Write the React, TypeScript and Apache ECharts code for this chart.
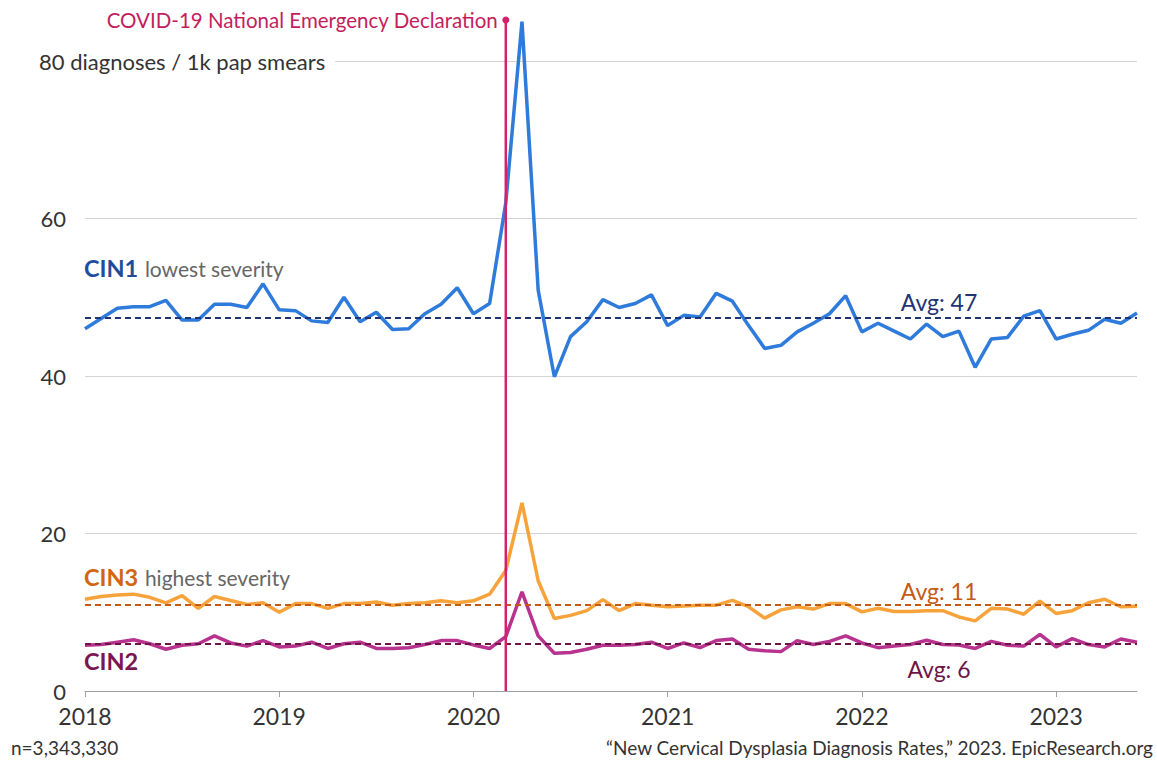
import React, { useEffect, useRef } from 'react';
import * as echarts from 'echarts';

const YEARS = ['2018', '2019', '2020', '2021', '2022', '2023'];
const MONTHS = ['01', '02', '03', '04', '05', '06', '07', '08', '09', '10', '11', '12'];
const LAST_MONTH_2023 = 6;

const categories: string[] = [];
YEARS.forEach((y) => {
  MONTHS.forEach((m, i) => {
    if (y === '2023' && i >= LAST_MONTH_2023) return;
    categories.push(`${y}-${m}`);
  });
});

const cin1 = [
  46.0, 47.3, 48.6, 48.8, 48.8, 49.6, 47.1, 47.1, 49.1, 49.1, 48.7, 51.7,
  48.4, 48.3, 47.0, 46.8, 50.0, 46.9, 48.1, 45.9, 46.0, 47.9, 49.1, 51.2,
  47.9, 49.2, 62.0, 85.0, 50.9, 39.9, 45.0, 46.9, 49.7, 48.7, 49.2, 50.3,
  46.4, 47.7, 47.5, 50.5, 49.5, 46.4, 43.5, 43.9, 45.6, 46.7, 47.9, 50.2,
  45.6, 46.7, 45.7, 44.7, 46.6, 45.0, 45.7, 41.1, 44.7, 44.9, 47.6, 48.3,
  44.7, 45.3, 45.8, 47.2, 46.7, 48.0,
];
const cin3 = [
  11.65, 12.0, 12.2, 12.3, 11.9, 11.2, 12.1, 10.5, 12.0, 11.5, 11.0, 11.2,
  10.0, 11.1, 11.1, 10.5, 11.1, 11.1, 11.3, 10.9, 11.1, 11.2, 11.45, 11.2,
  11.45, 12.3, 15.3, 23.9, 14.0, 9.2, 9.6, 10.2, 11.6, 10.2, 11.1, 10.9,
  10.7, 10.8, 10.9, 10.9, 11.5, 10.7, 9.25, 10.3, 10.7, 10.4, 11.1, 11.1,
  10.05, 10.5, 10.1, 10.1, 10.2, 10.2, 9.4, 8.9, 10.5, 10.4, 9.75, 11.4,
  9.85, 10.2, 11.2, 11.65, 10.7, 10.75,
];
const cin2 = [
  5.8, 5.9, 6.2, 6.5, 6.0, 5.3, 5.8, 6.0, 7.0, 6.1, 5.7, 6.4,
  5.6, 5.7, 6.2, 5.4, 6.0, 6.2, 5.4, 5.4, 5.5, 5.9, 6.4, 6.4,
  5.85, 5.4, 6.9, 12.6, 7.0, 4.8, 4.9, 5.3, 5.8, 5.8, 5.9, 6.2,
  5.4, 6.1, 5.5, 6.4, 6.6, 5.3, 5.1, 5.0, 6.4, 5.9, 6.3, 7.0,
  6.1, 5.5, 5.7, 5.9, 6.45, 5.9, 5.85, 5.4, 6.3, 5.8, 5.7, 7.2,
  5.6, 6.65, 5.9, 5.6, 6.6, 6.2,
];

const AVG_CIN1 = 47.4;
const AVG_CIN3 = 10.9;
const AVG_CIN2 = 6.0;

const Y_TICKS_MAX = 80;
const Y_INTERVAL = 20;
const COVID_MONTH = '2020-03';

const FONT = 'Lato, "Open Sans", sans-serif';

const C1 = '#2f7bdb';
const C1_DARK = '#1f4c9c';
const C1_AVG = '#1e3474';
const C3 = '#f7a33c';
const C3_DARK = '#d2660f';
const C3_AVG = '#c45a14';
const C2 = '#b7338f';
const C2_DARK = '#7a1650';
const C2_AVG = '#6d1545';
const COVID = '#d5206a';

export default function App() {
  const ref = useRef<HTMLDivElement>(null);
  useEffect(() => {
    if (!ref.current) return;
    const chart = echarts.init(ref.current, undefined, { renderer: 'svg' });
    const avgLine = (val: number, color: string) => ({
      silent: true,
      symbol: ['none', 'none'],
      label: { show: false },
      lineStyle: { type: [6, 4], color, width: 2 },
      data: [{ yAxis: val }],
    });
    const lineSeries = (name: string, data: number[], color: string, avg: number, avgColor: string) => ({
      name,
      type: 'line',
      data,
      clip: false,
      symbol: 'none',
      lineStyle: { color, width: 3.5 },
      itemStyle: { color },
      markLine: avgLine(avg, avgColor),
    });
    chart.setOption({
      animation: false,
      grid: { left: 85, right: 20, top: 61, bottom: 70 },
      xAxis: {
        type: 'category',
        data: categories,
        boundaryGap: false,
        axisLine: { lineStyle: { color: '#a0a0a0', width: 1 } },
        axisTick: {
          interval: (i: number) => i % 12 === 0,
          length: 6,
          lineStyle: { color: '#a0a0a0' },
        },
        axisLabel: {
          interval: (i: number) => i % 12 === 0,
          formatter: (v: string) => v.slice(0, 4),
          fontSize: 23,
          color: '#333',
          fontFamily: FONT,
          margin: 13,
        },
      },
      yAxis: {
        type: 'value',
        min: 0,
        max: Y_TICKS_MAX,
        interval: Y_INTERVAL,
        axisLine: { show: false },
        axisTick: { show: false },
        axisLabel: {
          formatter: (v: number) => (v === Y_TICKS_MAX ? '' : String(v)),
          fontSize: 22,
          color: '#333',
          fontFamily: FONT,
          margin: 19,
        },
        splitLine: { lineStyle: { color: '#d4d4d4', width: 1 } },
      },
      series: [
        lineSeries('CIN1', cin1, C1, AVG_CIN1, C1_AVG),
        lineSeries('CIN3', cin3, C3, AVG_CIN3, C3_AVG),
        lineSeries('CIN2', cin2, C2, AVG_CIN2, C2_AVG),
      ],
    });

    const covidX = chart.convertToPixel({ xAxisIndex: 0 }, COVID_MONTH) as number;
    const y0 = chart.convertToPixel({ yAxisIndex: 0 }, 0) as number;
    const y80 = chart.convertToPixel({ yAxisIndex: 0 }, Y_TICKS_MAX) as number;
    const yA1 = chart.convertToPixel({ yAxisIndex: 0 }, AVG_CIN1) as number;
    const yA3 = chart.convertToPixel({ yAxisIndex: 0 }, AVG_CIN3) as number;
    const yA2 = chart.convertToPixel({ yAxisIndex: 0 }, AVG_CIN2) as number;
    const topY = 20;
    const avgX = 939;

    chart.setOption({
      graphic: [
        {
          type: 'text', z: 100, x: 39, y: y80,
          style: {
            text: `${Y_TICKS_MAX} diagnoses / 1k pap smears`,
            fontSize: 22, fontFamily: FONT, fill: '#333',
            verticalAlign: 'middle', align: 'left',
            backgroundColor: '#fff', padding: [4, 10, 4, 0],
          },
        },
        {
          type: 'line', z: 90,
          shape: { x1: covidX, y1: topY, x2: covidX, y2: y0 },
          style: { stroke: COVID, lineWidth: 2.5 },
        },
        {
          type: 'circle', z: 91,
          shape: { cx: covidX, cy: topY, r: 3.5 },
          style: { fill: COVID },
        },
        {
          type: 'text', z: 100, x: covidX - 8, y: topY,
          style: {
            text: 'COVID-19 National Emergency Declaration',
            fontSize: 20.5, fontFamily: FONT, fill: '#c41d5c',
            align: 'right', verticalAlign: 'middle',
          },
        },
        {
          type: 'text', z: 100, x: 84, y: 268,
          style: {
            text: '{a|CIN1}  {b|lowest severity}',
            verticalAlign: 'middle', align: 'left',
            rich: {
              a: { fontSize: 23.5, fontWeight: 'bold', fill: C1_DARK, fontFamily: FONT },
              b: { fontSize: 21, fill: '#666', fontFamily: FONT },
            },
          },
        },
        {
          type: 'text', z: 100, x: 84, y: 577,
          style: {
            text: '{a|CIN3}  {b|highest severity}',
            verticalAlign: 'middle', align: 'left',
            rich: {
              a: { fontSize: 23.5, fontWeight: 'bold', fill: C3_DARK, fontFamily: FONT },
              b: { fontSize: 21, fill: '#666', fontFamily: FONT },
            },
          },
        },
        {
          type: 'text', z: 100, x: 84, y: 661,
          style: {
            text: 'CIN2', fontSize: 23.5, fontWeight: 'bold', fill: C2_DARK, fontFamily: FONT,
            verticalAlign: 'middle', align: 'left',
          },
        },
        {
          type: 'text', z: 100, x: avgX, y: yA1 - 16,
          style: {
            text: `Avg: ${Math.round(AVG_CIN1)}`, fontSize: 23, fill: C1_AVG, fontFamily: FONT,
            align: 'center', verticalAlign: 'middle',
          },
        },
        {
          type: 'text', z: 100, x: avgX, y: yA3 - 14,
          style: {
            text: `Avg: ${Math.round(AVG_CIN3)}`, fontSize: 23, fill: C3_AVG, fontFamily: FONT,
            align: 'center', verticalAlign: 'middle',
          },
        },
        {
          type: 'text', z: 100, x: avgX, y: yA2 + 25,
          style: {
            text: `Avg: ${Math.round(AVG_CIN2)}`, fontSize: 23, fill: C2_AVG, fontFamily: FONT,
            align: 'center', verticalAlign: 'middle',
          },
        },
        {
          type: 'text', z: 100, x: 11, y: 747,
          style: {
            text: 'n=3,343,330', fontSize: 19, fill: '#333', fontFamily: FONT,
            align: 'left', verticalAlign: 'middle',
          },
        },
        {
          type: 'text', z: 100, x: 1153, y: 747,
          style: {
            text: '\u201CNew Cervical Dysplasia Diagnosis Rates,\u201D 2023. EpicResearch.org',
            fontSize: 19, fill: '#333', fontFamily: FONT,
            align: 'right', verticalAlign: 'middle',
          },
        },
      ],
    });
    return () => chart.dispose();
  }, []);
  return (
    <div
      ref={ref}
      style={{ position: 'fixed', left: 0, top: 0, width: 1157, height: 761, background: '#fff' }}
    />
  );
}
